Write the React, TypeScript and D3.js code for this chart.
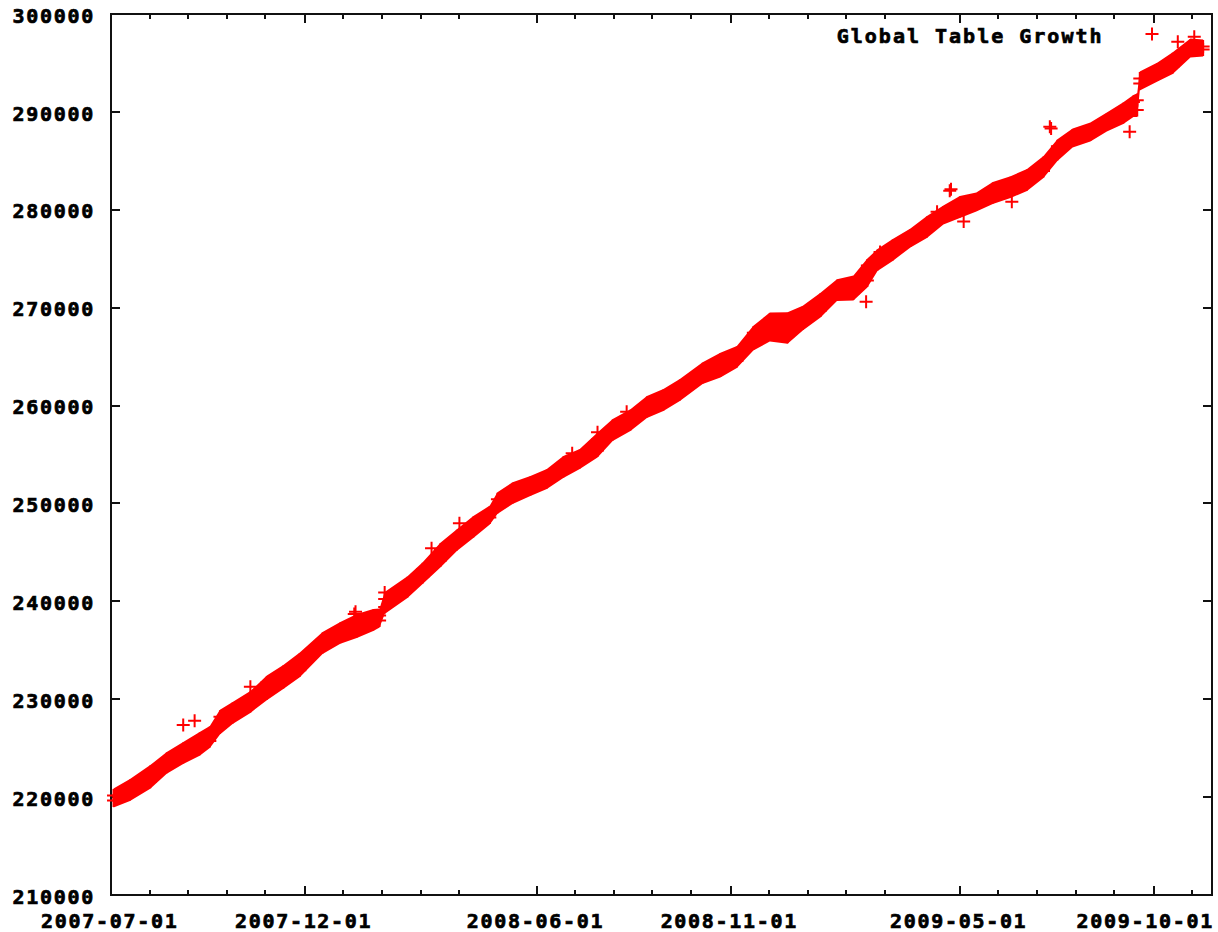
import * as d3 from "d3";
import { useEffect, useRef } from "react";

// readings of the point cloud: [date, lowest value, highest value]
const bandSamples: [string, number, number][] = [
    ["2007-07-03", 219660, 220160],
    ["2007-07-16", 220330, 221130],
    ["2007-08-01", 221560, 222560],
    ["2007-08-14", 223090, 223890],
    ["2007-08-27", 224110, 224910],
    ["2007-09-09", 224930, 225930],
    ["2007-09-17", 225740, 226540],
    ["2007-09-25", 227120, 228220],
    ["2007-10-05", 228190, 228990],
    ["2007-10-19", 229320, 230120],
    ["2007-11-01", 230600, 231700],
    ["2007-11-14", 231770, 232770],
    ["2007-11-27", 232950, 234050],
    ["2007-12-15", 235340, 236140],
    ["2007-12-29", 236370, 237170],
    ["2008-01-11", 236980, 237980],
    ["2008-01-24", 237690, 238490],
    ["2008-01-29", 238050, 238550],
    ["2008-02-02", 239430, 240230],
    ["2008-02-20", 241060, 241860],
    ["2008-03-03", 242490, 243290],
    ["2008-03-17", 244180, 245280],
    ["2008-03-30", 245860, 246660],
    ["2008-04-12", 247190, 247990],
    ["2008-04-25", 248570, 249070],
    ["2008-05-01", 249640, 250440],
    ["2008-05-13", 250660, 251460],
    ["2008-05-27", 251480, 252080],
    ["2008-06-09", 252200, 252800],
    ["2008-06-22", 253320, 254120],
    ["2008-07-05", 254240, 254840],
    ["2008-07-19", 255420, 256520],
    ["2008-07-31", 257100, 257900],
    ["2008-08-14", 258120, 258920],
    ["2008-08-27", 259450, 260250],
    ["2008-09-09", 260170, 260970],
    ["2008-09-22", 261190, 261990],
    ["2008-10-10", 262920, 263720],
    ["2008-10-24", 263590, 264690],
    ["2008-11-06", 264560, 265360],
    ["2008-11-19", 266350, 267450],
    ["2008-12-02", 267260, 268790],
    ["2008-12-16", 267020, 268820],
    ["2008-12-28", 268390, 269490],
    ["2009-01-11", 269720, 270820],
    ["2009-01-24", 271400, 272200],
    ["2009-02-06", 271460, 272560],
    ["2009-02-17", 272780, 274300],
    ["2009-02-25", 274470, 275270],
    ["2009-03-09", 275490, 276290],
    ["2009-03-23", 276870, 277370],
    ["2009-04-05", 277840, 278640],
    ["2009-04-18", 279220, 279720],
    ["2009-05-01", 279880, 280680],
    ["2009-05-14", 280550, 281050],
    ["2009-05-27", 281310, 282110],
    ["2009-06-10", 281920, 282720],
    ["2009-06-23", 282640, 283440],
    ["2009-07-06", 283970, 284770],
    ["2009-07-17", 285700, 286500],
    ["2009-07-29", 287080, 287580],
    ["2009-08-12", 287700, 288200],
    ["2009-08-25", 288720, 289220],
    ["2009-09-07", 289480, 290280],
    ["2009-09-15", 290200, 291000],
    ["2009-09-18", 290200, 291200],
    ["2009-09-20", 292900, 293400],
    ["2009-10-04", 293820, 294320],
    ["2009-10-16", 294590, 295390],
    ["2009-10-30", 296280, 296780],
    ["2009-11-09", 296380, 296680],
];

// single points sticking out of the cloud
const strayPoints: [string, number][] = [
    ["2007-08-27", 227370], ["2007-09-05", 227810], ["2007-10-19", 231280],
    ["2008-01-09", 238710], ["2008-01-10", 238940], ["2008-02-02", 240900],
    ["2008-03-10", 245420], ["2008-04-01", 247970], ["2008-06-29", 255120],
    ["2008-07-19", 257280], ["2008-08-11", 259370], ["2009-02-16", 270610],
    ["2009-02-27", 275690], ["2009-04-13", 279800], ["2009-04-23", 281950],
    ["2009-04-24", 282100], ["2009-05-04", 278790], ["2009-06-11", 280830],
    ["2009-07-11", 288490], ["2009-07-12", 288300], ["2009-09-12", 287980],
    ["2009-10-20", 297170], ["2009-11-02", 297680],
];

const yTicks = [210000, 220000, 230000, 240000, 250000, 260000, 270000, 280000, 290000, 300000];
const xTicks = ["2007-07-01", "2007-12-01", "2008-06-01", "2008-11-01", "2009-05-01", "2009-10-01"];
const xDomain = ["2007-07-01", "2009-11-16"];
const seriesName = "Global Table Growth";

const FONT = "'DejaVu Sans Mono', 'Liberation Mono', monospace";
const RED = "#ff0000";

export default function App() {
    const ref = useRef<SVGSVGElement>(null);

    useEffect(() => {
        const width = 1218, height = 932;
        const left = 111, right = 1212, top = 14, bottom = 895;
        const parse = d3.utcParse("%Y-%m-%d");

        const svg = d3.select(ref.current);
        svg.selectAll("*").remove();
        svg.attr("width", width).attr("height", height);

        svg.append("rect").attr("width", width).attr("height", height).attr("fill", "white");

        const x = d3.scaleUtc().domain(xDomain.map(d => parse(d)!)).range([left, right]);
        const y = d3.scaleLinear().domain([210000, 300000]).range([bottom, top]);

        const axis = svg.append("g").attr("stroke", "#111").attr("stroke-width", 2).attr("fill", "none");

        // y ticks, mirrored on the right
        yTicks.forEach(v => {
            const yy = Math.round(y(v));
            axis.append("line").attr("x1", left).attr("x2", left + 9).attr("y1", yy).attr("y2", yy);
            axis.append("line").attr("x1", right).attr("x2", right - 9).attr("y1", yy).attr("y2", yy);
        });

        // x ticks: major at the labels, 4 minor ones a month apart after each
        const majors = xTicks.map(d => parse(d)!);
        const monthMs = 30.44 * 864e5;
        majors.forEach((m, i) => {
            const xx = Math.round(x(m));
            axis.append("line").attr("x1", xx).attr("x2", xx).attr("y1", bottom).attr("y2", bottom - 9);
            axis.append("line").attr("x1", xx).attr("x2", xx).attr("y1", top).attr("y2", top + 9);
            const next = i < majors.length - 1 ? +majors[i + 1] : +x.domain()[1];
            for (let k = 1; k <= 4; k++) {
                const t = +m + k * monthMs;
                if (t >= next) break;
                const mx = Math.round(x(new Date(t)));
                axis.append("line").attr("x1", mx).attr("x2", mx).attr("y1", bottom).attr("y2", bottom - 5);
                axis.append("line").attr("x1", mx).attr("x2", mx).attr("y1", top).attr("y2", top + 5);
            }
        });

        axis.append("rect")
            .attr("x", left).attr("y", top)
            .attr("width", right - left).attr("height", bottom - top);

        const labels = svg.append("g")
            .attr("font-family", FONT)
            .attr("font-weight", "bold")
            .attr("font-size", 20)
            .attr("letter-spacing", 1.7)
            .attr("fill", "#000")
            .attr("stroke", "#000")
            .attr("stroke-width", 0.7);

        labels.selectAll("text.ylab")
            .data(yTicks)
            .enter()
            .append("text")
            .attr("class", "ylab")
            .attr("x", 95)
            .attr("y", d => y(d) + 8.7)
            .attr("text-anchor", "end")
            .text(d => String(d));

        const lastLabel = xTicks[xTicks.length - 1];
        labels.selectAll("text.xlab")
            .data(xTicks)
            .enter()
            .append("text")
            .attr("class", "xlab")
            .attr("x", d => (d === lastLabel ? width - 4 : x(parse(d)!) - 1.2))
            .attr("y", 928.3)
            .attr("text-anchor", d => (d === lastLabel ? "end" : "middle"))
            .text(d => d);

        // legend
        labels.append("text")
            .attr("x", 1103.5)
            .attr("y", 42.5)
            .attr("text-anchor", "end")
            .attr("letter-spacing", 2)
            .text(seriesName);

        const plus = "M-6.5,0H6.5M0,-6.5V6.5";
        svg.append("path")
            .attr("d", plus)
            .attr("transform", "translate(1152,34)")
            .attr("stroke", RED)
            .attr("stroke-width", 2)
            .attr("fill", "none");

        // the dense point cloud: filled between its lowest and highest markers
        const area = d3.area<[string, number, number]>()
            .x(d => x(parse(d[0])!))
            .y0(d => y(d[1]) + 7)
            .y1(d => y(d[2]) - 7);

        svg.append("path")
            .datum(bandSamples)
            .attr("d", area)
            .attr("fill", RED);

        const points: [string, number][] = [
            ...bandSamples.flatMap(d => [[d[0], d[1]], [d[0], d[2]]] as [string, number][]),
            ...strayPoints,
        ];

        svg.append("g")
            .selectAll("path")
            .data(points)
            .enter()
            .append("path")
            .attr("d", plus)
            .attr("transform", d => `translate(${x(parse(d[0])!)},${y(d[1])})`)
            .attr("stroke", RED)
            .attr("stroke-width", 2)
            .attr("fill", "none");
    }, []);

    return <svg ref={ref} style={{ position: "absolute", left: 0, top: 0, display: "block" }}></svg>;
}
